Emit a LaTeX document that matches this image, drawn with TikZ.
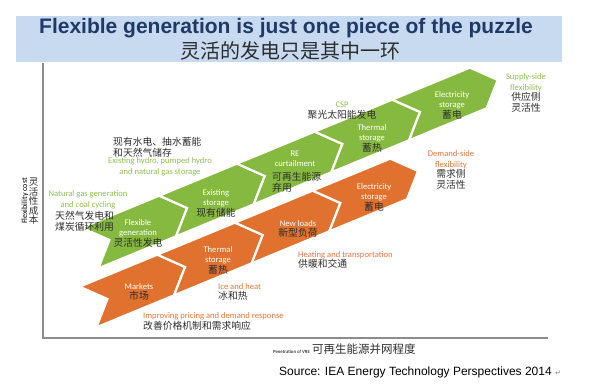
\documentclass[tikz,border=0pt]{standalone}
\usepackage{fontspec}
\setmainfont{Carlito}
\newfontfamily\cjk{Noto Sans CJK SC}
\newfontfamily\arialfont{Liberation Sans}
\newfontfamily\symfont{DejaVu Sans}
\usetikzlibrary{positioning}

\definecolor{flexgreen}{RGB}{134,185,64}
\definecolor{flexorange}{RGB}{224,113,47}
\definecolor{labgreen}{RGB}{142,192,78}
\definecolor{laborange}{RGB}{228,118,58}
\definecolor{titleblue}{RGB}{32,58,104}
\definecolor{titlebg}{RGB}{200,218,240}
\definecolor{zhgray}{RGB}{45,45,45}
\definecolor{axisgray}{RGB}{140,140,140}

\newcommand{\zh}[1]{{\fontsize{9.8}{11}\selectfont\cjk\color{zhgray}#1}}
\def\seglen{84}

\tikzset{
  every node/.style={inner sep=0pt},
  seglabel/.style={align=center, text=white, font=\fontsize{8.6}{10.5}\selectfont},
  greenlabel/.style={align=center, text=labgreen, font=\fontsize{8.6}{10.5}\selectfont},
  orangelabel/.style={align=left, anchor=west, text=laborange, font=\fontsize{8.6}{10.5}\selectfont},
  zhlabel/.style={align=left, anchor=west, text=zhgray, font=\fontsize{9.8}{11}\selectfont\cjk},
  chevseg/.style={fill=#1, draw=white, line width=2.2pt},
}

\begin{document}
\begin{tikzpicture}[x=1pt, y=-1pt]
  \useasboundingbox (0,0) rectangle (600,385);

  % title
  \fill[titlebg] (16,16) rectangle (562,62);
  \node[font=\arialfont\bfseries\fontsize{21}{24}\selectfont, text=titleblue] (title) at (286,28) {Flexible generation is just one piece of the puzzle};
  \node[font=\cjk\fontsize{20}{22}\selectfont, text=zhgray] (subtitle) at (290,51) {灵活的发电只是其中一环};

  % axes
  \coordinate (ytop) at (43,63);
  \coordinate (origin) at (43,338);
  \coordinate (xend) at (548,338);
  \draw[axisgray, line width=1.1pt] (ytop) -- (origin) -- (xend);
  \node[rotate=90, font=\fontsize{8}{9}\selectfont] (ylabel) at (25,201) {Flexibility cost};
  \node[align=center, font=\fontsize{9.5}{9.5}\selectfont\cjk, text=zhgray] (ylabelzh) at (33.5,201.5) {灵\\活\\性\\成\\本};
  \node[anchor=west] (xlabel) at (273,349) {{\fontsize{4.8}{6}\selectfont Penetration of VRE} {\fontsize{11.5}{12}\selectfont\cjk\color{zhgray}可再生能源并网程度}};

  % supply side band
  \begin{scope}[shift={(90,248)}, rotate=22.4]
    \foreach \k in {0,...,4}
      \draw[chevseg=flexgreen] ({\k*\seglen},-22) -- ({(\k+1)*\seglen},-22) -- ({(\k+1)*\seglen+21},0)
        -- ({(\k+1)*\seglen},22) -- ({\k*\seglen},22) -- ({\k*\seglen+21},0) -- cycle;
  \end{scope}

  % demand side band
  \begin{scope}[shift={(88,307)}, rotate=22.4]
    \foreach \k in {0,...,3}
      \draw[chevseg=flexorange] ({\k*\seglen},-22) -- ({(\k+1)*\seglen},-22) -- ({(\k+1)*\seglen+21},0)
        -- ({(\k+1)*\seglen},22) -- ({\k*\seglen},22) -- ({\k*\seglen+21},0) -- cycle;
  \end{scope}

  % labels in the green band
  \node[seglabel] (flexgen) at (138,233) {Flexible\\generation\\\zh{灵活性发电}};
  \node[seglabel] (existstore) at (216,203) {Existing\\storage\\\zh{现有储能}};
  \node[seglabel] (curtail) at (295,159) {RE\\curtailment};
  \node[zhlabel] (curtailzh) at (272,182) {可再生能源\\弃用};
  \node[seglabel] (thermalg) at (372,138) {Thermal\\storage\\\zh{蓄热}};
  \node[seglabel] (elecg) at (452,105) {Electricity\\storage\\\zh{蓄电}};

  % labels in the orange band
  \node[seglabel] (markets) at (139,292) {Markets\\\zh{市场}};
  \node[seglabel] (thermalo) at (218,260) {Thermal\\storage\\\zh{蓄热}};
  \node[seglabel] (newloads) at (298,229) {New loads\\\zh{新型负荷}};
  \node[seglabel] (eleco) at (374,197) {Electricity\\storage\\\zh{蓄电}};

  % labels round the bands
  \node[zhlabel] (hydrozh) at (113,147) {现有水电、抽水蓄能\\和天然气储存};
  \node[greenlabel] (hydro) at (160,167) {Existing hydro, pumped hydro\\and natural gas storage};
  \node[greenlabel] (natgas) at (88,200) {Natural gas generation\\and coal cycling};
  \node[zhlabel] (natgaszh) at (55,221) {天然气发电和\\煤炭循环利用};
  \node[greenlabel] (csp) at (342,110.5) {CSP\\\zh{聚光太阳能发电}};
  \node[greenlabel] (supply) at (526,93) {Supply-side\\flexibility\\\zh{供应侧}\\\zh{灵活性}};
  \node[greenlabel, text=laborange] (demand) at (451,170) {Demand-side\\flexibility\\\zh{需求侧}\\\zh{灵活性}};
  \node[orangelabel] (heating) at (298,260) {Heating and transportation\\\zh{供暖和交通}};
  \node[orangelabel] (iceheat) at (218,292) {Ice and heat\\\zh{冰和热}};
  \node[orangelabel] (pricing) at (143,321.5) {Improving pricing and demand response\\\zh{改善价格机制和需求响应}};

  % source
  \node[anchor=west, font=\arialfont\fontsize{12}{14}\selectfont] (source) at (279,372) {Source: IEA Energy Technology Perspectives 2014 {\symfont\fontsize{7}{8}\selectfont\color{gray}↵}};
\end{tikzpicture}
\end{document}
